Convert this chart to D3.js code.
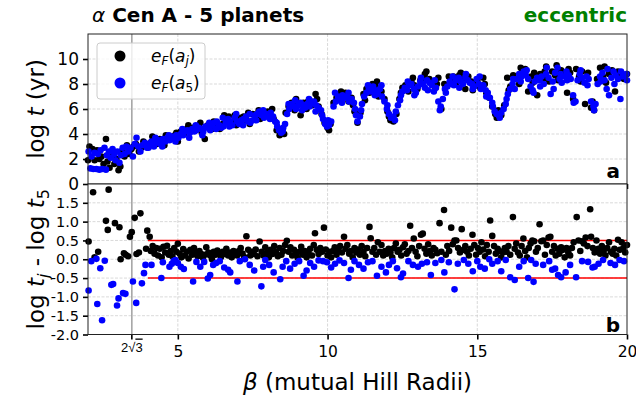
<!DOCTYPE html>
<html>
<head>
<meta charset="utf-8">
<script src="https://cdn.jsdelivr.net/npm/d3@7"></script>
<style>
  body { margin: 0; background: #fff; }
  svg { font-family: "DejaVu Sans", sans-serif; }
</style>
</head>
<body>
<div id="vis"></div>
<script>

// log t vs beta, e_F(a_j) (black) and e_F(a_5) (blue)
const topBlack = [
  [2.0,1.9],[2.05,3.0],[2.15,2.8],[2.22,1.9],[2.3,2.7],[2.38,2.0],[2.45,2.2],[2.52,1.6],[2.6,3.6],[2.65,1.8],
  [2.72,1.3],[2.8,2.5],[2.88,1.6],[2.95,2.0],[3.02,1.1],[3.08,1.4],[3.15,2.7],[3.22,2.2],[3.3,3.1],[3.38,2.4],
  [3.45,2.8],[3.52,3.0],[3.6,3.2],[3.7,2.6],[3.78,2.9],[3.85,3.4],[3.95,3.2],[4.02,3.1],[4.1,3.3],[4.2,3.5],
  [4.3,3.2],[4.4,3.6],[4.5,3.4],[4.6,3.9],[4.7,3.7],[4.8,3.6],[4.9,3.9],[5.0,3.4],[5.1,4.2],[5.2,4.0],
  [5.3,4.4],[5.4,4.3],[5.5,4.5],[5.6,4.4],[5.7,4.6],[5.8,4.1],[5.9,3.6],[6.0,4.7],[6.1,4.8],[6.2,5.0],
  [6.3,4.8],[6.4,4.4],[6.5,4.8],[6.6,5.2],[6.7,5.4],[6.8,4.9],[6.9,5.5],[7.0,5.2],[7.1,5.3],[7.2,5.4],
  [7.3,5.1],[7.4,4.8],[7.5,5.6],[7.6,5.4],[7.7,5.9],[7.8,5.7],[7.9,5.5],[8.0,5.8],[8.1,5.4],[8.2,5.2],
  [8.3,4.3],[8.4,3.9],[8.5,4.4],[8.6,5.7],[8.7,6.2],[8.8,6.5],[8.9,5.9],[9.0,6.3],[9.1,5.5],[9.2,6.5],
  [9.3,6.0],[9.4,6.7],[9.5,6.3],[9.6,7.2],[9.7,6.2],[9.8,5.6],[9.9,4.9],[10.0,4.5],[10.1,4.8],[10.2,6.5],
  [10.3,6.9],[10.4,7.2],[10.5,6.9],[10.6,7.3],[10.7,6.6],[10.8,6.9],[10.9,5.8],[11.0,4.9],[11.1,5.7],[11.2,7.2],
  [11.3,7.6],[11.4,7.3],[11.5,8.0],[11.6,7.8],[11.7,7.0],[11.8,7.4],[11.9,6.8],[12.0,5.8],[12.1,5.1],[12.2,5.0],
  [12.3,5.6],[12.4,6.8],[12.5,7.7],[12.6,7.9],[12.7,7.4],[12.8,8.2],[12.9,7.9],[13.0,7.6],[13.1,8.3],[13.2,8.5],
  [13.3,9.0],[13.4,8.4],[13.5,8.2],[13.6,7.7],[13.7,8.5],[13.8,6.0],[13.9,8.0],[14.0,7.9],[14.1,8.4],[14.2,8.6],
  [14.3,8.1],[14.4,8.7],[14.5,8.4],[14.6,7.6],[14.7,8.6],[14.8,8.2],[14.9,8.0],[15.0,8.3],[15.1,7.7],[15.2,8.5],
  [15.3,7.3],[15.4,6.9],[15.5,6.2],[15.6,5.6],[15.7,5.9],[15.8,5.5],[15.9,6.3],[16.0,8.5],[16.1,7.8],[16.2,8.7],
  [16.3,8.4],[16.4,8.0],[16.5,9.0],[16.6,9.2],[16.7,7.4],[16.8,8.6],[16.9,8.9],[17.0,7.1],[17.1,8.8],[17.2,8.4],
  [17.3,9.4],[17.4,8.2],[17.5,9.0],[17.6,8.7],[17.7,8.3],[17.8,9.1],[17.9,8.8],[18.0,7.3],[18.1,8.9],[18.2,6.8],
  [18.3,9.2],[18.4,8.6],[18.5,9.0],[18.6,6.4],[18.7,8.9],[18.8,6.1],[18.9,5.9],[19.0,8.4],[19.1,9.3],[19.2,8.6],
  [19.3,8.1],[19.4,8.8],[19.5,9.1],[19.6,7.4],[19.7,9.0],[19.8,8.7],[19.9,8.4],[20.0,8.8],
  [4.15,3.8],[4.55,3.1],[4.95,4.1],[5.35,4.7],[5.75,4.9],[6.15,4.4],[6.55,5.5],[6.95,4.7],[7.35,5.7],[7.75,5.2],
  [8.15,6.0],[8.55,4.0],[8.95,6.8],[9.35,6.6],[9.65,6.8],[10.05,4.3],[10.45,7.4],[10.85,6.3],[11.25,6.7],[11.65,8.2],
  [12.05,5.4],[12.45,7.3],[12.85,8.5],[13.25,8.8],[13.65,8.0],[14.05,8.6],[14.45,8.9],[14.85,7.5],[15.25,8.0],[15.65,5.3],
  [16.05,7.5],[16.45,9.3],[16.85,8.1],[17.25,9.0],[17.65,9.5],[18.05,9.2],[18.45,8.2],[18.85,6.6],[19.25,9.4],[19.65,8.9]
];

const topBlue = [
  [2.02,2.6],[2.08,1.25],[2.12,2.2],[2.18,1.2],[2.22,2.5],[2.28,1.2],[2.33,2.4],[2.38,1.15],[2.42,2.7],[2.48,1.2],
  [2.55,2.9],[2.6,1.15],[2.63,2.3],[2.7,2.6],[2.76,2.1],[2.82,2.8],[2.88,2.4],[2.92,1.9],[2.98,2.6],[3.05,1.7],
  [3.1,2.3],[3.16,2.9],[3.22,2.4],[3.28,3.0],[3.35,2.6],[3.42,2.9],[3.5,2.2],[3.56,3.2],[3.62,3.7],[3.68,3.0],
  [3.75,2.6],[3.82,3.1],[3.9,3.3],[3.97,2.9],[4.05,3.2],[4.12,3.4],[4.2,3.0],[4.28,3.3],[4.35,3.5],[4.42,3.2],
  [4.5,3.6],[4.58,3.4],[4.65,3.7],[4.72,3.5],[4.8,3.8],[4.88,3.6],[4.95,3.9],[5.02,3.7],[5.1,4.0],[5.18,3.9],
  [5.25,4.2],[5.32,4.3],[5.4,4.1],[5.48,4.4],[5.55,4.2],[5.62,4.3],[5.7,4.5],[5.78,4.4],[5.85,4.2],[5.92,4.6],
  [6.0,4.5],[6.08,4.3],[6.15,4.7],[6.22,4.9],[6.3,5.0],[6.38,4.7],[6.45,4.5],[6.52,4.6],[6.6,4.9],[6.68,5.2],
  [6.75,5.0],[6.82,4.7],[6.9,5.3],[6.98,5.0],[7.05,4.8],[7.12,5.1],[7.2,5.2],[7.28,5.4],[7.35,5.0],[7.42,4.9],
  [7.5,5.1],[7.58,5.5],[7.65,5.6],[7.72,5.8],[7.8,5.5],[7.88,5.3],[7.95,5.6],[8.02,5.5],[8.1,5.7],[8.18,5.4],
  [8.25,5.0],[8.32,4.6],[8.38,4.3],[8.45,4.1],[8.52,4.5],[8.58,4.8],[8.65,5.6],[8.72,6.0],[8.8,6.4],[8.88,6.2],
  [8.95,6.0],[9.02,6.3],[9.1,6.5],[9.18,6.3],[9.25,6.1],[9.32,6.4],[9.4,6.2],[9.48,6.5],[9.55,6.6],[9.62,6.3],
  [9.7,6.1],[9.78,5.9],[9.85,5.2],[9.92,4.8],[9.98,4.6],[10.05,4.7],[10.12,5.0],[10.2,6.2],[10.28,6.6],[10.35,7.0],
  [10.42,6.8],[10.5,7.1],[10.58,6.9],[10.65,7.0],[10.72,6.6],[10.8,6.8],[10.88,6.5],[10.95,5.5],[11.0,5.0],[11.08,5.4],
  [11.15,6.4],[11.22,7.0],[11.3,7.3],[11.38,7.6],[11.45,7.4],[11.52,7.8],[11.6,7.5],[11.68,7.2],[11.75,7.6],[11.82,7.0],
  [11.9,6.6],[11.98,6.0],[12.05,5.6],[12.12,5.3],[12.2,5.4],[12.28,5.8],[12.35,6.3],[12.42,6.7],[12.5,7.4],[12.58,7.7],
  [12.65,7.5],[12.72,7.9],[12.8,8.0],[12.88,7.6],[12.95,7.3],[13.02,7.8],[13.1,8.2],[13.18,8.0],[13.25,7.7],[13.32,8.3],
  [13.4,8.1],[13.48,7.9],[13.55,7.4],[13.62,7.7],[13.7,6.6],[13.78,6.2],[13.85,6.8],[13.92,7.6],[14.0,7.8],[14.08,8.2],
  [14.15,8.0],[14.22,7.9],[14.3,8.3],[14.38,8.5],[14.45,8.2],[14.52,8.0],[14.6,8.5],[14.68,8.3],[14.75,8.1],[14.82,8.0],
  [14.9,7.8],[14.98,8.4],[15.05,8.0],[15.12,7.6],[15.2,7.9],[15.28,7.5],[15.35,7.3],[15.42,6.9],[15.5,6.5],[15.58,5.8],
  [15.65,5.6],[15.72,5.5],[15.8,5.7],[15.88,6.0],[15.95,6.4],[16.02,7.2],[16.1,7.6],[16.18,8.0],[16.25,7.6],[16.32,8.4],
  [16.4,8.8],[16.48,8.6],[16.55,9.0],[16.62,8.7],[16.7,8.4],[16.78,7.8],[16.85,7.5],[16.92,8.2],[17.0,8.5],[17.08,8.3],
  [17.15,8.6],[17.22,8.0],[17.3,8.8],[17.38,8.5],[17.45,7.2],[17.52,8.2],[17.6,8.9],[17.68,9.3],[17.75,8.4],[17.82,8.1],
  [17.9,8.6],[17.98,9.0],[18.05,8.7],[18.12,8.4],[18.2,7.1],[18.28,6.6],[18.35,8.3],[18.42,8.8],[18.5,8.5],[18.58,8.1],
  [18.65,8.6],[18.72,8.4],[18.8,6.6],[18.88,6.2],[18.95,6.4],[19.02,8.0],[19.1,8.6],[19.18,8.9],[19.25,8.3],[19.32,7.6],
  [19.4,7.1],[19.48,8.5],[19.55,9.0],[19.62,8.7],[19.7,8.4],[19.78,6.8],[19.85,8.6],[19.92,8.7],[19.98,8.8],
  [4.02,2.9],[4.25,3.7],[4.48,3.0],[4.7,3.9],[4.92,3.4],[5.15,4.4],[5.38,3.7],[5.6,4.7],[5.82,3.9],[6.05,4.9],
  [6.28,4.4],[6.5,5.3],[6.72,4.6],[6.95,5.6],[7.18,4.7],[7.4,5.6],[7.62,5.1],[7.85,5.9],[8.08,5.2],[8.3,4.9],
  [8.5,4.2],[8.7,6.4],[8.92,6.7],[9.15,5.9],[9.38,6.8],[9.6,5.8],[9.82,5.5],[10.02,5.1],[10.25,7.3],[10.48,6.5],
  [10.7,7.3],[10.92,6.0],[11.12,5.9],[11.35,7.9],[11.58,7.1],[11.8,7.9],[12.0,6.3],[12.25,5.1],[12.45,7.1],[12.68,8.2],
  [12.9,7.1],[13.12,8.5],[13.35,7.5],[13.58,8.3],[13.75,5.9],[13.95,7.3],[14.18,8.6],[14.4,7.7],[14.62,8.8],[14.85,7.6],
  [15.08,8.6],[15.3,7.0],[15.52,6.2],[15.75,5.3],[15.98,6.8],[16.2,8.4],[16.45,8.2],[16.65,9.1],[16.88,7.3],[17.1,7.8],
  [17.32,9.3],[17.55,7.6],[17.78,8.8],[18.0,8.3],[18.22,6.5],[18.45,9.1],[18.68,7.9],[18.9,5.9],[19.12,8.2],[19.35,9.2],
  [19.58,8.0],[19.8,9.0],[20.0,8.3]
];

// log t_j - log t_5
const diffBlack = [
  [2.02,0.47],[2.17,1.78],[2.22,0.05],[2.34,0.2],[2.6,1.02],[2.66,0.78],[2.69,1.85],[2.9,0.96],[3.05,0.85],[3.09,0.0],
  [3.2,0.16],[3.26,0.12],[3.34,0.08],[3.4,0.6],[3.46,0.72],[3.56,1.1],[3.62,0.14],[3.7,0.18],[3.75,1.22],[3.94,0.28],
  [3.98,0.76],[4.06,0.6],[4.1,0.22],[4.16,0.35],[4.22,0.15],[4.28,0.3],[4.34,0.1],[4.4,0.28],[4.46,0.05],[4.52,0.33],
  [4.58,0.18],[4.64,0.36],[4.7,0.12],[4.76,0.22],[4.82,0.08],[4.88,0.3],[4.95,0.2],[5.0,0.41],[5.06,0.15],[5.12,0.05],
  [5.18,0.27],[5.24,0.1],[5.3,0.2],[5.36,0.02],[5.42,0.25],[5.48,0.12],[5.54,0.3],[5.6,0.18],[5.66,0.08],[5.72,0.22],
  [5.78,0.14],[5.84,0.04],[5.9,0.12],[5.95,0.32],[6.02,0.18],[6.08,0.1],[6.14,0.0],[6.2,0.2],[6.26,0.12],[6.32,0.23],
  [6.38,0.15],[6.44,0.06],[6.5,0.2],[6.56,0.14],[6.62,0.28],[6.68,0.1],[6.74,0.18],[6.8,0.05],[6.86,0.22],[6.92,0.14],
  [6.98,0.1],[7.04,0.22],[7.1,0.3],[7.16,0.15],[7.22,0.06],[7.29,0.61],[7.35,0.25],[7.42,0.1],[7.48,0.2],[7.54,0.14],
  [7.6,0.26],[7.66,0.08],[7.73,0.47],[7.8,0.2],[7.86,0.1],[7.92,0.32],[7.98,0.18],[8.04,0.05],[8.1,0.25],[8.16,0.14],
  [8.22,0.35],[8.28,0.2],[8.34,0.08],[8.4,0.3],[8.46,0.12],[8.52,0.22],[8.58,0.38],[8.64,0.49],[8.7,0.2],[8.76,0.32],
  [8.82,0.1],[8.88,0.25],[8.94,0.15],[9.0,0.04],[9.06,0.2],[9.12,0.33],[9.18,0.12],[9.24,0.22],[9.3,0.05],[9.36,0.18],
  [9.42,0.28],[9.48,0.1],[9.54,0.38],[9.58,0.69],[9.64,0.25],[9.7,0.14],[9.76,0.3],[9.82,0.2],[9.88,0.84],[9.94,0.26],
  [10.0,0.1],[10.06,0.2],[10.12,0.05],[10.18,0.22],[10.24,0.32],[10.3,0.12],[10.36,0.25],[10.42,0.35],[10.48,0.18],[10.55,0.6],
  [10.6,0.28],[10.66,0.38],[10.72,0.15],[10.78,0.22],[10.84,0.05],[10.9,0.3],[10.96,0.18],[11.02,0.26],[11.08,0.12],[11.14,0.35],
  [11.2,0.2],[11.26,0.08],[11.32,0.3],[11.4,0.86],[11.44,0.56],[11.5,0.2],[11.56,0.3],[11.62,0.12],[11.68,0.45],[11.74,0.2],
  [11.8,0.38],[11.86,0.1],[11.92,0.22],[11.98,0.15],[12.04,0.28],[12.1,0.18],[12.16,0.05],[12.22,0.3],[12.28,0.42],[12.34,0.2],
  [12.4,0.25],[12.46,0.1],[12.52,0.32],[12.58,0.4],[12.64,0.15],[12.7,0.22],[12.76,0.89],[12.82,0.3],[12.88,0.55],[12.94,0.2],
  [13.0,0.08],[13.06,0.35],[13.12,0.65],[13.18,0.68],[13.24,0.28],[13.3,0.15],[13.36,0.4],[13.42,0.22],[13.48,0.1],[13.54,0.3],
  [13.6,0.25],[13.66,0.16],[13.74,0.96],[13.8,0.2],[13.89,1.31],[13.95,0.12],[14.0,0.35],[14.06,0.22],[14.13,0.84],[14.18,0.4],
  [14.24,0.5],[14.3,0.5],[14.36,0.3],[14.42,0.18],[14.48,0.8],[14.54,0.25],[14.6,0.35],[14.66,0.2],[14.72,0.1],[14.78,0.28],
  [14.84,0.65],[14.9,0.38],[14.96,0.12],[15.02,0.3],[15.08,0.2],[15.14,0.45],[15.2,0.26],[15.26,0.08],[15.32,0.38],[15.38,0.2],
  [15.43,1.03],[15.5,0.62],[15.56,0.35],[15.62,0.15],[15.68,0.28],[15.74,0.22],[15.8,0.05],[15.86,0.18],[15.92,0.3],[15.98,0.2],
  [16.04,0.35],[16.1,0.12],[16.19,1.12],[16.25,0.28],[16.3,0.42],[16.36,0.18],[16.42,0.1],[16.48,0.35],[16.54,0.55],[16.6,0.22],
  [16.66,0.05],[16.72,0.3],[16.78,0.42],[16.84,0.5],[16.9,0.48],[16.96,0.2],[17.02,0.3],[17.08,0.93],[17.14,0.48],[17.2,0.5],
  [17.26,0.12],[17.32,0.38],[17.38,0.58],[17.44,0.6],[17.5,0.2],[17.56,0.35],[17.62,0.1],[17.68,0.28],[17.74,0.15],[17.8,0.32],
  [17.86,0.25],[17.92,0.05],[17.98,0.3],[18.04,0.18],[18.1,0.1],[18.16,0.3],[18.22,0.45],[18.32,1.12],[18.38,0.5],[18.44,0.22],
  [18.5,0.48],[18.56,0.42],[18.62,0.58],[18.68,0.35],[18.77,1.33],[18.8,0.6],[18.86,0.3],[18.92,0.18],[18.98,0.5],[19.04,0.28],
  [19.1,0.15],[19.16,0.35],[19.22,0.22],[19.28,0.1],[19.34,0.3],[19.4,0.45],[19.46,0.2],[19.52,0.15],[19.58,0.28],[19.64,0.1],
  [19.7,0.52],[19.76,0.25],[19.82,0.45],[19.88,0.3],[19.94,0.18],[20.0,0.38]
];

const diffBlue = [
  [2.02,-0.83],[2.11,-0.05],[2.28,0.01],[2.31,-1.19],[2.41,-0.24],[2.47,-1.62],[2.56,-0.04],[2.78,-0.68],[2.84,-0.66],[2.97,-1.23],
  [3.02,-1.04],[3.17,-0.9],[3.25,-0.92],[3.5,-0.59],[3.61,-1.16],[3.8,-0.64],[3.87,-0.37],[3.92,-0.15],[4.12,-0.15],[4.45,-0.5],
  [4.5,-0.08],[4.72,-0.2],[4.8,-0.12],[4.86,-0.05],[4.92,-0.02],[5.0,-0.1],[5.1,-0.2],[5.2,-0.26],[5.51,-0.59],[5.62,-0.07],
  [5.75,-0.2],[5.88,-0.07],[6.0,-0.51],[6.08,-0.42],[6.18,-0.15],[6.28,-0.1],[6.4,-0.05],[6.55,-0.22],[6.68,-0.28],[6.75,-0.35],
  [6.99,-0.59],[7.07,-0.05],[7.24,0.0],[7.4,-0.15],[7.55,-0.3],[7.79,-0.72],[7.85,-0.2],[7.92,-0.02],[8.05,-0.15],[8.2,-0.35],
  [8.42,-0.53],[8.5,-0.2],[8.62,-0.05],[8.75,-0.25],[8.9,-0.12],[9.05,-0.05],[9.2,-0.44],[9.3,-0.3],[9.42,-0.1],[9.55,-0.2],
  [9.7,-0.03],[9.85,-0.05],[9.98,-0.08],[10.12,-0.22],[10.25,-0.12],[10.4,-0.03],[10.55,-0.1],[10.7,-0.5],[10.78,-0.28],[10.9,-0.05],
  [11.05,-0.15],[11.2,-0.25],[11.35,-0.08],[11.5,-0.05],[11.65,-0.44],[11.8,-0.2],[11.95,-0.35],[12.05,-0.15],[12.18,-0.05],[12.32,-0.24],
  [12.45,-0.48],[12.52,-0.38],[12.7,-0.05],[12.85,-0.15],[13.02,-0.2],[13.15,-0.12],[13.32,-0.08],[13.45,-0.42],[13.6,-0.1],[13.8,-0.02],
  [13.9,-0.35],[14.05,-0.08],[14.24,-0.8],[14.35,-0.12],[14.55,-0.02],[14.7,-0.12],[14.85,-0.32],[15.0,-0.05],[15.1,-0.2],[15.25,-0.25],
  [15.4,0.0],[15.5,-0.12],[15.68,-0.05],[15.8,-0.32],[15.95,-0.02],[16.1,-0.48],[16.25,-0.55],[16.4,-0.2],[16.55,-0.05],[16.7,-0.5],
  [16.8,-0.02],[16.88,-0.6],[16.95,-0.12],[17.2,-0.15],[17.4,-0.05],[17.5,-0.28],[17.6,-0.25],[17.7,-0.42],[17.8,-0.48],[17.95,-0.35],
  [18.1,-0.15],[18.3,-0.48],[18.5,-0.05],[18.7,-0.07],[18.85,-0.22],[18.92,-0.2],[19.05,-0.12],[19.2,-0.02],[19.45,-0.1],[19.6,-0.15],
  [19.75,-0.02],[19.9,-0.05]
];

const topTicks = [0, 2, 4, 6, 8, 10];
const diffTicks = [-2.0, -1.5, -1.0, -0.5, 0.0, 0.5, 1.0, 1.5];
const betaTicks = [5, 10, 15, 20];
const hillLimit = 2 * Math.sqrt(3);
const bandLevels = [0.5, -0.5];
const bandStart = 4;

const width = 636, height = 403;
const plot = {left: 88, right: 627, top: 34, mid: 184, bottom: 334.5};

const x = d3.scaleLinear().domain([2, 20]).range([plot.left, plot.right]);
const yTop = d3.scaleLinear().domain([0, 12]).range([plot.mid, plot.top]);
const yDiff = d3.scaleLinear().domain([-2, 2]).range([plot.bottom, plot.mid]);

const svg = d3.select("#vis").append("svg")
  .attr("width", width)
  .attr("height", height);

function gridLines(g, yScale, ticks, y0, y1) {
  g.selectAll(".hgrid").data(ticks).enter().append("line")
    .attr("x1", plot.left).attr("x2", plot.right)
    .attr("y1", d => yScale(d)).attr("y2", d => yScale(d))
    .attr("stroke", "#cfcfcf").attr("stroke-width", 0.8)
    .attr("stroke-dasharray", "3,1.5");
  g.selectAll(".vgrid").data([5, 10, 15]).enter().append("line")
    .attr("x1", d => x(d)).attr("x2", d => x(d))
    .attr("y1", y0).attr("y2", y1)
    .attr("stroke", "#cfcfcf").attr("stroke-width", 0.8)
    .attr("stroke-dasharray", "3,1.5");
  g.append("line")
    .attr("x1", x(hillLimit)).attr("x2", x(hillLimit))
    .attr("y1", y0).attr("y2", y1)
    .attr("stroke", "#a0a0a0").attr("stroke-width", 1.5);
}

function dots(g, data, yScale, color) {
  g.selectAll(null).data(data).enter().append("circle")
    .attr("cx", d => x(d[0]))
    .attr("cy", d => yScale(d[1]))
    .attr("r", 3.3)
    .attr("fill", color);
}

function styleAxis(g, size) {
  g.select(".domain").remove();
  g.selectAll(".tick line").attr("stroke", "#000").attr("stroke-width", 1.6);
  g.selectAll(".tick text").attr("font-size", size || 14.5).attr("fill", "#000")
    .attr("font-family", "DejaVu Sans");
}

// ---- top panel
const topG = svg.append("g");
gridLines(topG, yTop, topTicks.filter(d => d > 0), plot.top, plot.mid);
dots(topG, topBlack, yTop, "#000");
dots(topG, topBlue, yTop, "#0000ff");

topG.append("g")
  .attr("transform", `translate(0,${plot.mid})`)
  .call(d3.axisBottom(x).tickValues([hillLimit].concat(betaTicks)).tickSize(5).tickFormat(""))
  .call(styleAxis);

topG.append("g")
  .attr("transform", `translate(${plot.left},0)`)
  .call(d3.axisLeft(yTop).tickValues(topTicks).tickSize(5).tickPadding(4).tickFormat(d3.format("d")))
  .call(styleAxis, 17);

topG.append("rect")
  .attr("x", plot.left).attr("y", plot.top)
  .attr("width", plot.right - plot.left).attr("height", plot.mid - plot.top)
  .attr("fill", "none").attr("stroke", "#222").attr("stroke-width", 1);

// ---- bottom panel
const botG = svg.append("g");
botG.append("rect")
  .attr("x", plot.left).attr("y", plot.mid)
  .attr("width", plot.right - plot.left).attr("height", plot.bottom - plot.mid)
  .attr("fill", "#fff");
gridLines(botG, yDiff, diffTicks.filter(d => d > -2), plot.mid, plot.bottom);

botG.selectAll(".band").data(bandLevels).enter().append("line")
  .attr("x1", x(bandStart)).attr("x2", x(20))
  .attr("y1", d => yDiff(d)).attr("y2", d => yDiff(d))
  .attr("stroke", "#ff0000").attr("stroke-width", 1.5);

dots(botG, diffBlack, yDiff, "#000");
dots(botG, diffBlue, yDiff, "#0000ff");

botG.append("g")
  .attr("transform", `translate(${plot.left},0)`)
  .call(d3.axisLeft(yDiff).tickValues(diffTicks).tickSize(5).tickPadding(4).tickFormat(d => d.toFixed(1)))
  .call(styleAxis);

const xAxisG = botG.append("g")
  .attr("transform", `translate(0,${plot.bottom})`)
  .call(d3.axisBottom(x).tickValues(betaTicks).tickSize(5).tickPadding(6).tickFormat(d3.format("d")))
  .call(styleAxis, 15.5);

// 2 sqrt(3) tick with smaller label
const hillTick = xAxisG.append("g").attr("transform", `translate(${x(hillLimit)},0)`);
hillTick.append("line").attr("y2", 5).attr("stroke", "#000").attr("stroke-width", 1.6);
const hillLabel = hillTick.append("text")
  .attr("y", 17).attr("text-anchor", "middle")
  .attr("font-size", 13).attr("fill", "#000");
hillLabel.append("tspan").text("2√");
hillLabel.append("tspan").text("3").attr("text-decoration", "overline");

botG.append("rect")
  .attr("x", plot.left).attr("y", plot.mid)
  .attr("width", plot.right - plot.left).attr("height", plot.bottom - plot.mid)
  .attr("fill", "none").attr("stroke", "#222").attr("stroke-width", 1);

// ---- panel letters
svg.append("text").attr("x", 620).attr("y", 177.5).attr("text-anchor", "end")
  .attr("font-size", 20).attr("font-weight", "bold").text("a");
svg.append("text").attr("x", 620).attr("y", 331.5).attr("text-anchor", "end")
  .attr("font-size", 20).attr("font-weight", "bold").text("b");

// ---- legend
const legendItems = [
  {color: "#000", sub: "j"},
  {color: "#0000ff", sub: "5"}
];
const legend = svg.append("g");
legend.append("rect")
  .attr("x", 97).attr("y", 43).attr("width", 108).attr("height", 56)
  .attr("rx", 3).attr("fill", "#fff").attr("fill-opacity", 0.8)
  .attr("stroke", "#cccccc").attr("stroke-width", 1);
legendItems.forEach((item, i) => {
  const cy = 56 + i * 27;
  legend.append("circle").attr("cx", 120).attr("cy", cy).attr("r", 5.5).attr("fill", item.color);
  const t = legend.append("text").attr("x", 151).attr("y", cy + 6).attr("font-size", 17).attr("fill", "#000");
  t.append("tspan").attr("font-style", "italic").text("e");
  t.append("tspan").attr("font-style", "italic").attr("font-size", 12).attr("dy", 3).text("F");
  t.append("tspan").attr("dy", -3).text("(");
  t.append("tspan").attr("font-style", "italic").text("a");
  t.append("tspan").attr("font-style", item.sub === "j" ? "italic" : "normal").attr("font-size", 12).attr("dy", 3).text(item.sub);
  t.append("tspan").attr("dy", -3).text(")");
});

// ---- axis titles
const yl1 = svg.append("text")
  .attr("transform", `translate(44,${(plot.top + plot.mid) / 2}) rotate(-90)`)
  .attr("text-anchor", "middle").attr("font-size", 23).attr("fill", "#000");
yl1.append("tspan").text("log ");
yl1.append("tspan").attr("font-style", "italic").text("t");
yl1.append("tspan").text(" (yr)");

const yl2 = svg.append("text")
  .attr("transform", `translate(44,${(plot.mid + plot.bottom) / 2}) rotate(-90)`)
  .attr("text-anchor", "middle").attr("font-size", 23).attr("fill", "#000");
yl2.append("tspan").text("log ");
yl2.append("tspan").attr("font-style", "italic").text("t");
yl2.append("tspan").attr("font-style", "italic").attr("font-size", 16).attr("dy", 5).text("j");
yl2.append("tspan").attr("dy", -5).text(" - log ");
yl2.append("tspan").attr("font-style", "italic").text("t");
yl2.append("tspan").attr("font-size", 16).attr("dy", 5).text("5");

const xl = svg.append("text")
  .attr("x", (plot.left + plot.right) / 2).attr("y", 390)
  .attr("text-anchor", "middle").attr("font-size", 23).attr("fill", "#000");
xl.append("tspan").attr("font-style", "italic").text("β");
xl.append("tspan").text(" (mutual Hill Radii)");

// ---- titles
const title = svg.append("text").attr("x", plot.left + 4).attr("y", 22).attr("font-size", 20);
title.append("tspan").attr("font-style", "italic").text("α");
title.append("tspan").attr("font-weight", "bold").text(" Cen A - 5 planets");

svg.append("text").attr("x", plot.right).attr("y", 22).attr("text-anchor", "end")
  .attr("font-size", 20).attr("font-weight", "bold").attr("fill", "#008000")
  .text("eccentric");

</script>
</body>
</html>
